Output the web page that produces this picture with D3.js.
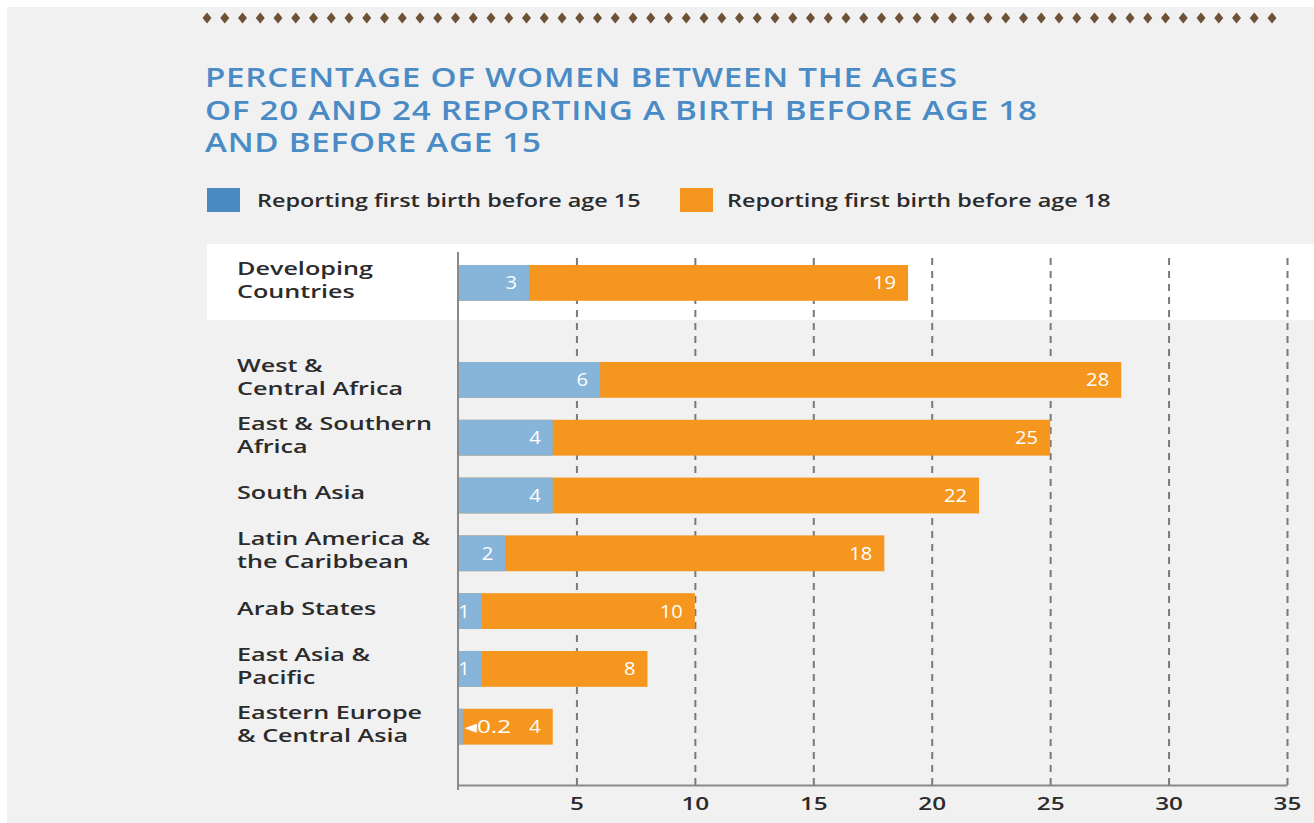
<!DOCTYPE html>
<html>
<head>
<meta charset="utf-8">
<script src="https://cdn.jsdelivr.net/npm/d3@7"></script>
<style>
  html, body { margin: 0; padding: 0; background: #ffffff; }
  svg { display: block; }
  text { font-family: "Open Sans", "DejaVu Sans", sans-serif; }
</style>
</head>
<body>
<svg id="chart" width="1314" height="823"></svg>
<script>
// Regions, in drawing order; the first entry is the aggregate row
const categories = [
  "Developing Countries",
  "West & Central Africa",
  "East & Southern Africa",
  "South Asia",
  "Latin America & the Caribbean",
  "Arab States",
  "East Asia & Pacific",
  "Eastern Europe & Central Asia"
];
// Category labels as they break across two lines
const categoryLines = [
  ["Developing", "Countries"],
  ["West &", "Central Africa"],
  ["East & Southern", "Africa"],
  ["South Asia"],
  ["Latin America &", "the Caribbean"],
  ["Arab States"],
  ["East Asia &", "Pacific"],
  ["Eastern Europe", "& Central Asia"]
];
// Percent reporting a first birth before age 15
const before15 = [3, 6, 4, 4, 2, 1, 1, 0.2];
// Percent reporting a first birth before age 18
const before18 = [19, 28, 25, 22, 18, 10, 8, 4];
const xTicks = [5, 10, 15, 20, 25, 30, 35];
const seriesNames = ["Reporting first birth before age 15", "Reporting first birth before age 18"];
const titleLines = [
  "PERCENTAGE OF WOMEN BETWEEN THE AGES",
  "OF 20 AND 24 REPORTING A BIRTH BEFORE AGE 18",
  "AND BEFORE AGE 15"
];

const W = 1314, H = 823;
const colBlue = "#87b5d9", colBlueKey = "#4a88c1", colOrange = "#f5961f";
const ink = "#2b2b2b";

// widen set text horizontally by factor k (the typeface runs wide)
function stretch(sel, k) {
  sel.each(function () {
    const L = this.getComputedTextLength();
    d3.select(this).attr("textLength", L * k).attr("lengthAdjust", "spacingAndGlyphs");
  });
}

const svg = d3.select("#chart");

// page panel
svg.append("rect").attr("x", 7).attr("y", 7).attr("width", W - 7).attr("height", H - 7).attr("fill", "#f1f1f2");

// decorative diamond border along the top
const dots = d3.range(61);
svg.append("g").selectAll("path").data(dots).join("path")
  .attr("d", d => {
    const cx = 207 + d * 17.75, cy = 18;
    return `M${cx},${cy - 5.5}L${cx + 4.5},${cy}L${cx},${cy + 5.5}L${cx - 4.5},${cy}Z`;
  })
  .attr("fill", "#6e5236");

// title
svg.append("g").selectAll("text").data(titleLines).join("text")
  .attr("x", 205).attr("y", (d, i) => 87 + i * 32.5)
  .attr("fill", "#4a8bc6").attr("font-size", 26.5).attr("font-weight", 600)
  .attr("letter-spacing", 0.6)
  .text(d => d)
  .call(stretch, 1.25);

// legend
const legend = svg.append("g");
const legendX = [207, 680];
const legendTextX = [257, 727];
legend.selectAll("rect").data(seriesNames).join("rect")
  .attr("x", (d, i) => legendX[i]).attr("y", 188).attr("width", 33).attr("height", 24)
  .attr("fill", (d, i) => i === 0 ? colBlueKey : colOrange);
legend.selectAll("text").data(seriesNames).join("text")
  .attr("x", (d, i) => legendTextX[i]).attr("y", 207)
  .attr("fill", ink).attr("font-size", 18).attr("font-weight", 600)
  .text(d => d)
  .call(stretch, 1.30);

// scales
const x = d3.scaleLinear().domain([0, 35]).range([458, 1287]);
const band = d3.scaleBand().domain(categories).range([254, 254 + 8 * 57.8])
  .paddingInner(0.38).paddingOuter(0.19);
const groupGap = 39.2;
const y = c => band(c) + (c === categories[0] ? 0 : groupGap);
const bh = band.bandwidth();

// highlight strip behind the aggregate row
svg.append("rect").attr("x", 207).attr("y", 244).attr("width", W - 207).attr("height", 76).attr("fill", "#ffffff");

const plotTop = 252, plotBottom = 785;

// x axis with dashed gridlines
const axis = svg.append("g").attr("transform", `translate(0,${plotBottom})`)
  .call(d3.axisBottom(x).tickValues(xTicks).tickSizeInner(-(plotBottom - plotTop)).tickSizeOuter(0).tickPadding(12));
axis.select(".domain").attr("stroke", "#8a8a8a").attr("stroke-width", 2);
axis.selectAll(".tick line").attr("stroke", "#7a7a7a").attr("stroke-width", 2).attr("stroke-dasharray", "7,6");
axis.selectAll(".tick text").attr("fill", ink).attr("font-size", 18).attr("font-weight", 600)
  .attr("font-family", "\"Open Sans\", sans-serif")
  .call(stretch, 1.35);

// y axis line
svg.append("line").attr("x1", x(0)).attr("x2", x(0)).attr("y1", plotTop).attr("y2", plotBottom + 5)
  .attr("stroke", "#8a8a8a").attr("stroke-width", 2);

const rows = categories.map((c, i) => ({ c, lines: categoryLines[i], a: before15[i], b: before18[i] }));

// before-18 bars, with before-15 drawn over from zero
const bars = svg.append("g");
bars.selectAll("rect.b18").data(rows).join("rect").attr("class", "b18")
  .attr("x", x(0) + 1).attr("y", d => y(d.c)).attr("width", d => x(d.b) - x(0) - 1).attr("height", bh)
  .attr("fill", colOrange);
bars.selectAll("rect.b15").data(rows).join("rect").attr("class", "b15")
  .attr("x", x(0) + 1).attr("y", d => y(d.c)).attr("width", d => x(d.a) - x(0) - 1).attr("height", bh)
  .attr("fill", colBlue);

// value labels
const vl = svg.append("g").attr("fill", "#ffffff").attr("font-size", 18);
vl.selectAll("text.v18").data(rows).join("text").attr("class", "v18")
  .attr("x", d => x(d.b) - 12).attr("y", d => y(d.c) + bh / 2 + 6.5)
  .attr("text-anchor", "end").text(d => d.b)
  .call(stretch, 1.12);
vl.selectAll("text.v15").data(rows).join("text").attr("class", "v15")
  .attr("x", d => d.a < 0.5 ? x(d.a) + 2 : x(d.a) - 12)
  .attr("y", d => y(d.c) + bh / 2 + 6.5)
  .attr("text-anchor", d => d.a < 0.5 ? "start" : "end")
  .text(d => d.a < 0.5 ? "\u25C2" + d.a : d.a)
  .each(function (d) { d3.select(this).call(stretch, d.a < 0.5 ? 1.35 : 1.12); });

// category labels
const cl = svg.append("g").attr("fill", ink).attr("font-size", 18.5).attr("font-weight", 600);
rows.forEach(d => {
  const n = d.lines.length;
  const cy = y(d.c) + bh / 2 - 3;
  d.lines.forEach((t, j) => {
    cl.append("text").attr("x", 237)
      .attr("y", cy + (j - (n - 1) / 2) * 23 + 6.5)
      .text(t)
      .call(stretch, 1.36);
  });
});
</script>
</body>
</html>
